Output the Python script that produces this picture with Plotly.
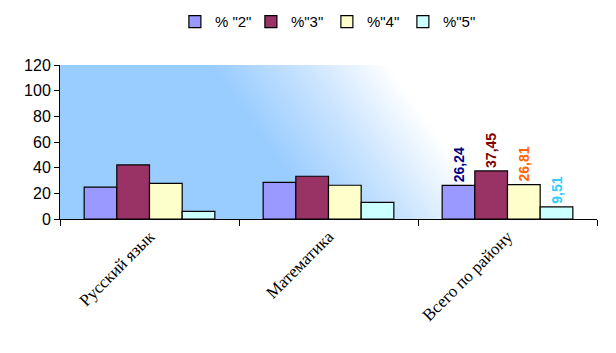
import base64
import plotly.graph_objects as go

categories = ["Русский язык", "Математика", "Всего по району"]
series_names = ['% "2"', '%"3"', '%"4"', '%"5"']
s2 = [24.9, 28.6, 26.24]
s3 = [42.1, 33.3, 37.45]
s4 = [27.8, 26.3, 26.81]
s5 = [6.0, 13.0, 9.51]
label_flags = [False, False, True]
y_ticks = [0, 20, 40, 60, 80, 100, 120]

fill_colors = ["#9999FF", "#993366", "#FFFFCC", "#CCFFFF"]
label_colors = ["#000080", "#800000", "#FF6600", "#33CCFF"]

fig = go.Figure()
for name, vals, fc, lc in zip(series_names, [s2, s3, s4, s5], fill_colors, label_colors):
    texts = [f"{v:.2f}".replace(".", ",") + "  " if f else "" for v, f in zip(vals, label_flags)]
    fig.add_trace(go.Bar(
        x=categories, y=vals, name=name,
        marker=dict(color=fc, line=dict(color="black", width=1.2)),
        text=texts, textposition="outside", textangle=-90, constraintext="none",
        outsidetextfont=dict(color=lc, size=14, family="Liberation Sans"),
        texttemplate="<b>%{text}</b>",
        cliponaxis=False,
    ))

svg = """<svg xmlns='http://www.w3.org/2000/svg' width='537' height='154' viewBox='0 0 537 154' preserveAspectRatio='none'>
<defs><linearGradient id='g' gradientUnits='userSpaceOnUse' x1='150' y1='0' x2='270' y2='-84'>
<stop offset='0' stop-color='#99CCFF'/><stop offset='0.5' stop-color='#C8E3FF'/><stop offset='1' stop-color='#FFFFFF'/></linearGradient></defs>
<rect x='0' y='0' width='537' height='154' fill='url(#g)'/></svg>"""
src = "data:image/svg+xml;base64," + base64.b64encode(svg.encode()).decode()

fig.update_layout(
    width=616, height=353,
    margin=dict(l=60, r=19, t=65, b=134),
    paper_bgcolor="white", plot_bgcolor="rgba(0,0,0,0)",
    barmode="group", bargap=0.27, bargroupgap=0,
    font=dict(family="Liberation Sans", size=15, color="black"),
    showlegend=True,
    legend=dict(orientation="h", x=0.497, xanchor="center", yref="container", y=0.985, yanchor="top",
                font=dict(size=15), itemwidth=30, entrywidth=31, traceorder="normal"),
    images=[dict(source=src, xref="paper", yref="paper", x=0, y=1, sizex=1, sizey=1,
                 sizing="stretch", layer="below", xanchor="left", yanchor="top")],
)
fig.update_xaxes(
    showline=True, linecolor="black", linewidth=1, ticks="outside", ticklen=6,
    tickcolor="black", tickson="boundaries", tickangle=-45,
    tickfont=dict(family="Liberation Serif", size=17), showgrid=False,
)
fig.update_yaxes(
    range=[0, 120], tickvals=y_ticks, showline=True, linecolor="black", linewidth=1,
    ticks="outside", ticklen=5, tickcolor="black", showgrid=False, zeroline=False,
    tickfont=dict(size=16),
)
fig.write_html("out.html")
